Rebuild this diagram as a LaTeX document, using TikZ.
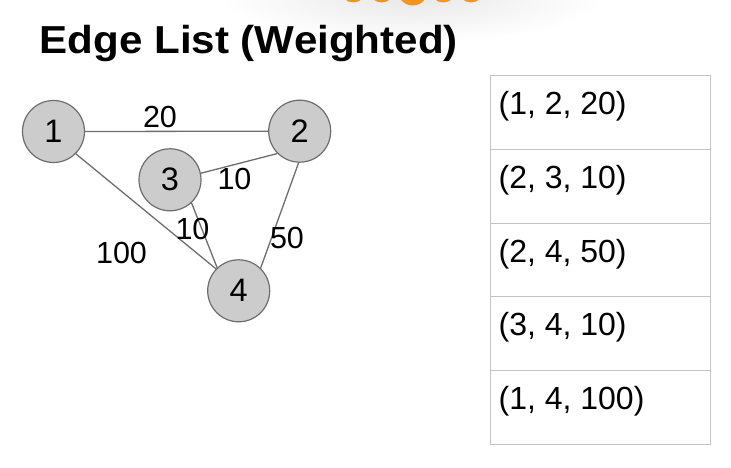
\documentclass[tikz,border=0pt]{standalone}
\usepackage{fontspec}
\setmainfont{Liberation Sans}
\definecolor{nodefill}{HTML}{CCCCCC}
\definecolor{nodeline}{HTML}{6E6E6E}
\definecolor{edgeline}{HTML}{6E6E6E}
\definecolor{tableline}{HTML}{C4C4C4}
\definecolor{dotorange}{HTML}{F7941D}
\tikzset{
  vert/.style={circle, draw=nodeline, fill=nodefill, line width=1.2pt, minimum size=62pt, inner sep=0pt, font=\fontsize{32.5}{32.5}\selectfont},
  edge/.style={draw=edgeline, line width=1.3pt},
  wlabel/.style={inner sep=0pt, font=\fontsize{30.5}{30.5}\selectfont},
  cell/.style={draw=tableline, line width=1pt, minimum width=220pt, minimum height=73.66pt, inner sep=0pt},
  celltext/.style={anchor=base west, inner sep=0pt, font=\fontsize{32}{32}\selectfont},
  dot/.style={fill=dotorange, draw=none},
}
\begin{document}
\begin{tikzpicture}[x=1pt,y=-1pt]
\path[use as bounding box, fill=white] (0,0) rectangle (731,468);
% loader shadow and dots
\shade[inner color=black!9, outer color=white] (412,-2) ellipse [x radius=190, y radius=44];
\fill[dot] (353.3,-10.5) circle [radius=13];
\fill[dot] (381.7,-10.5) circle [radius=13];
\fill[dot] (412.7,-9.5) circle [radius=15];
\fill[dot] (443.3,-10.5) circle [radius=13];
\fill[dot] (471,-10.5) circle [radius=13];
% title
\node[anchor=base west, inner sep=0pt, font=\fontsize{39}{39}\selectfont\bfseries] (title) at (39.5,54) {\scalebox{1.08}[1]{Edge List (Weighted)}};
% graph
\node[vert] (n1) at (53.5,131.5) {1};
\node[vert] (n2) at (299.7,131.2) {2};
\node[vert] (n3) at (170,179.8) {3};
\node[vert] (n4) at (238.7,290.8) {4};
\draw[edge] (n1.0) -- (n2.180);
\draw[edge] (n1.-45) -- (n4.136);
\draw[edge] (n3.12) -- (n2.225);
\draw[edge] (n3.-47) -- (n4.133);
\draw[edge] (n2.-92) -- (n4.46);
\node[wlabel] (w12) at (160,117) {20};
\node[wlabel] (w23) at (234.5,179.5) {10};
\node[wlabel] (w34) at (192.5,229) {10};
\node[wlabel] (w14) at (121.5,252.5) {100};
\node[wlabel] (w24) at (287,238.5) {50};
% table
\node[cell] (c1) at (600.7,112.53) {};
\node[cell] (c2) at (600.7,186.19) {};
\node[cell] (c3) at (600.7,259.85) {};
\node[cell] (c4) at (600.7,333.51) {};
\node[cell] (c5) at (600.7,407.17) {};
\node[celltext] (t1) at (498.4,115) {(1, 2, 20)};
\node[celltext] (t2) at (498.4,188.66) {(2, 3, 10)};
\node[celltext] (t3) at (498.4,262.32) {(2, 4, 50)};
\node[celltext] (t4) at (498.4,335.98) {(3, 4, 10)};
\node[celltext] (t5) at (498.4,409.64) {(1, 4, 100)};
\end{tikzpicture}
\end{document}
